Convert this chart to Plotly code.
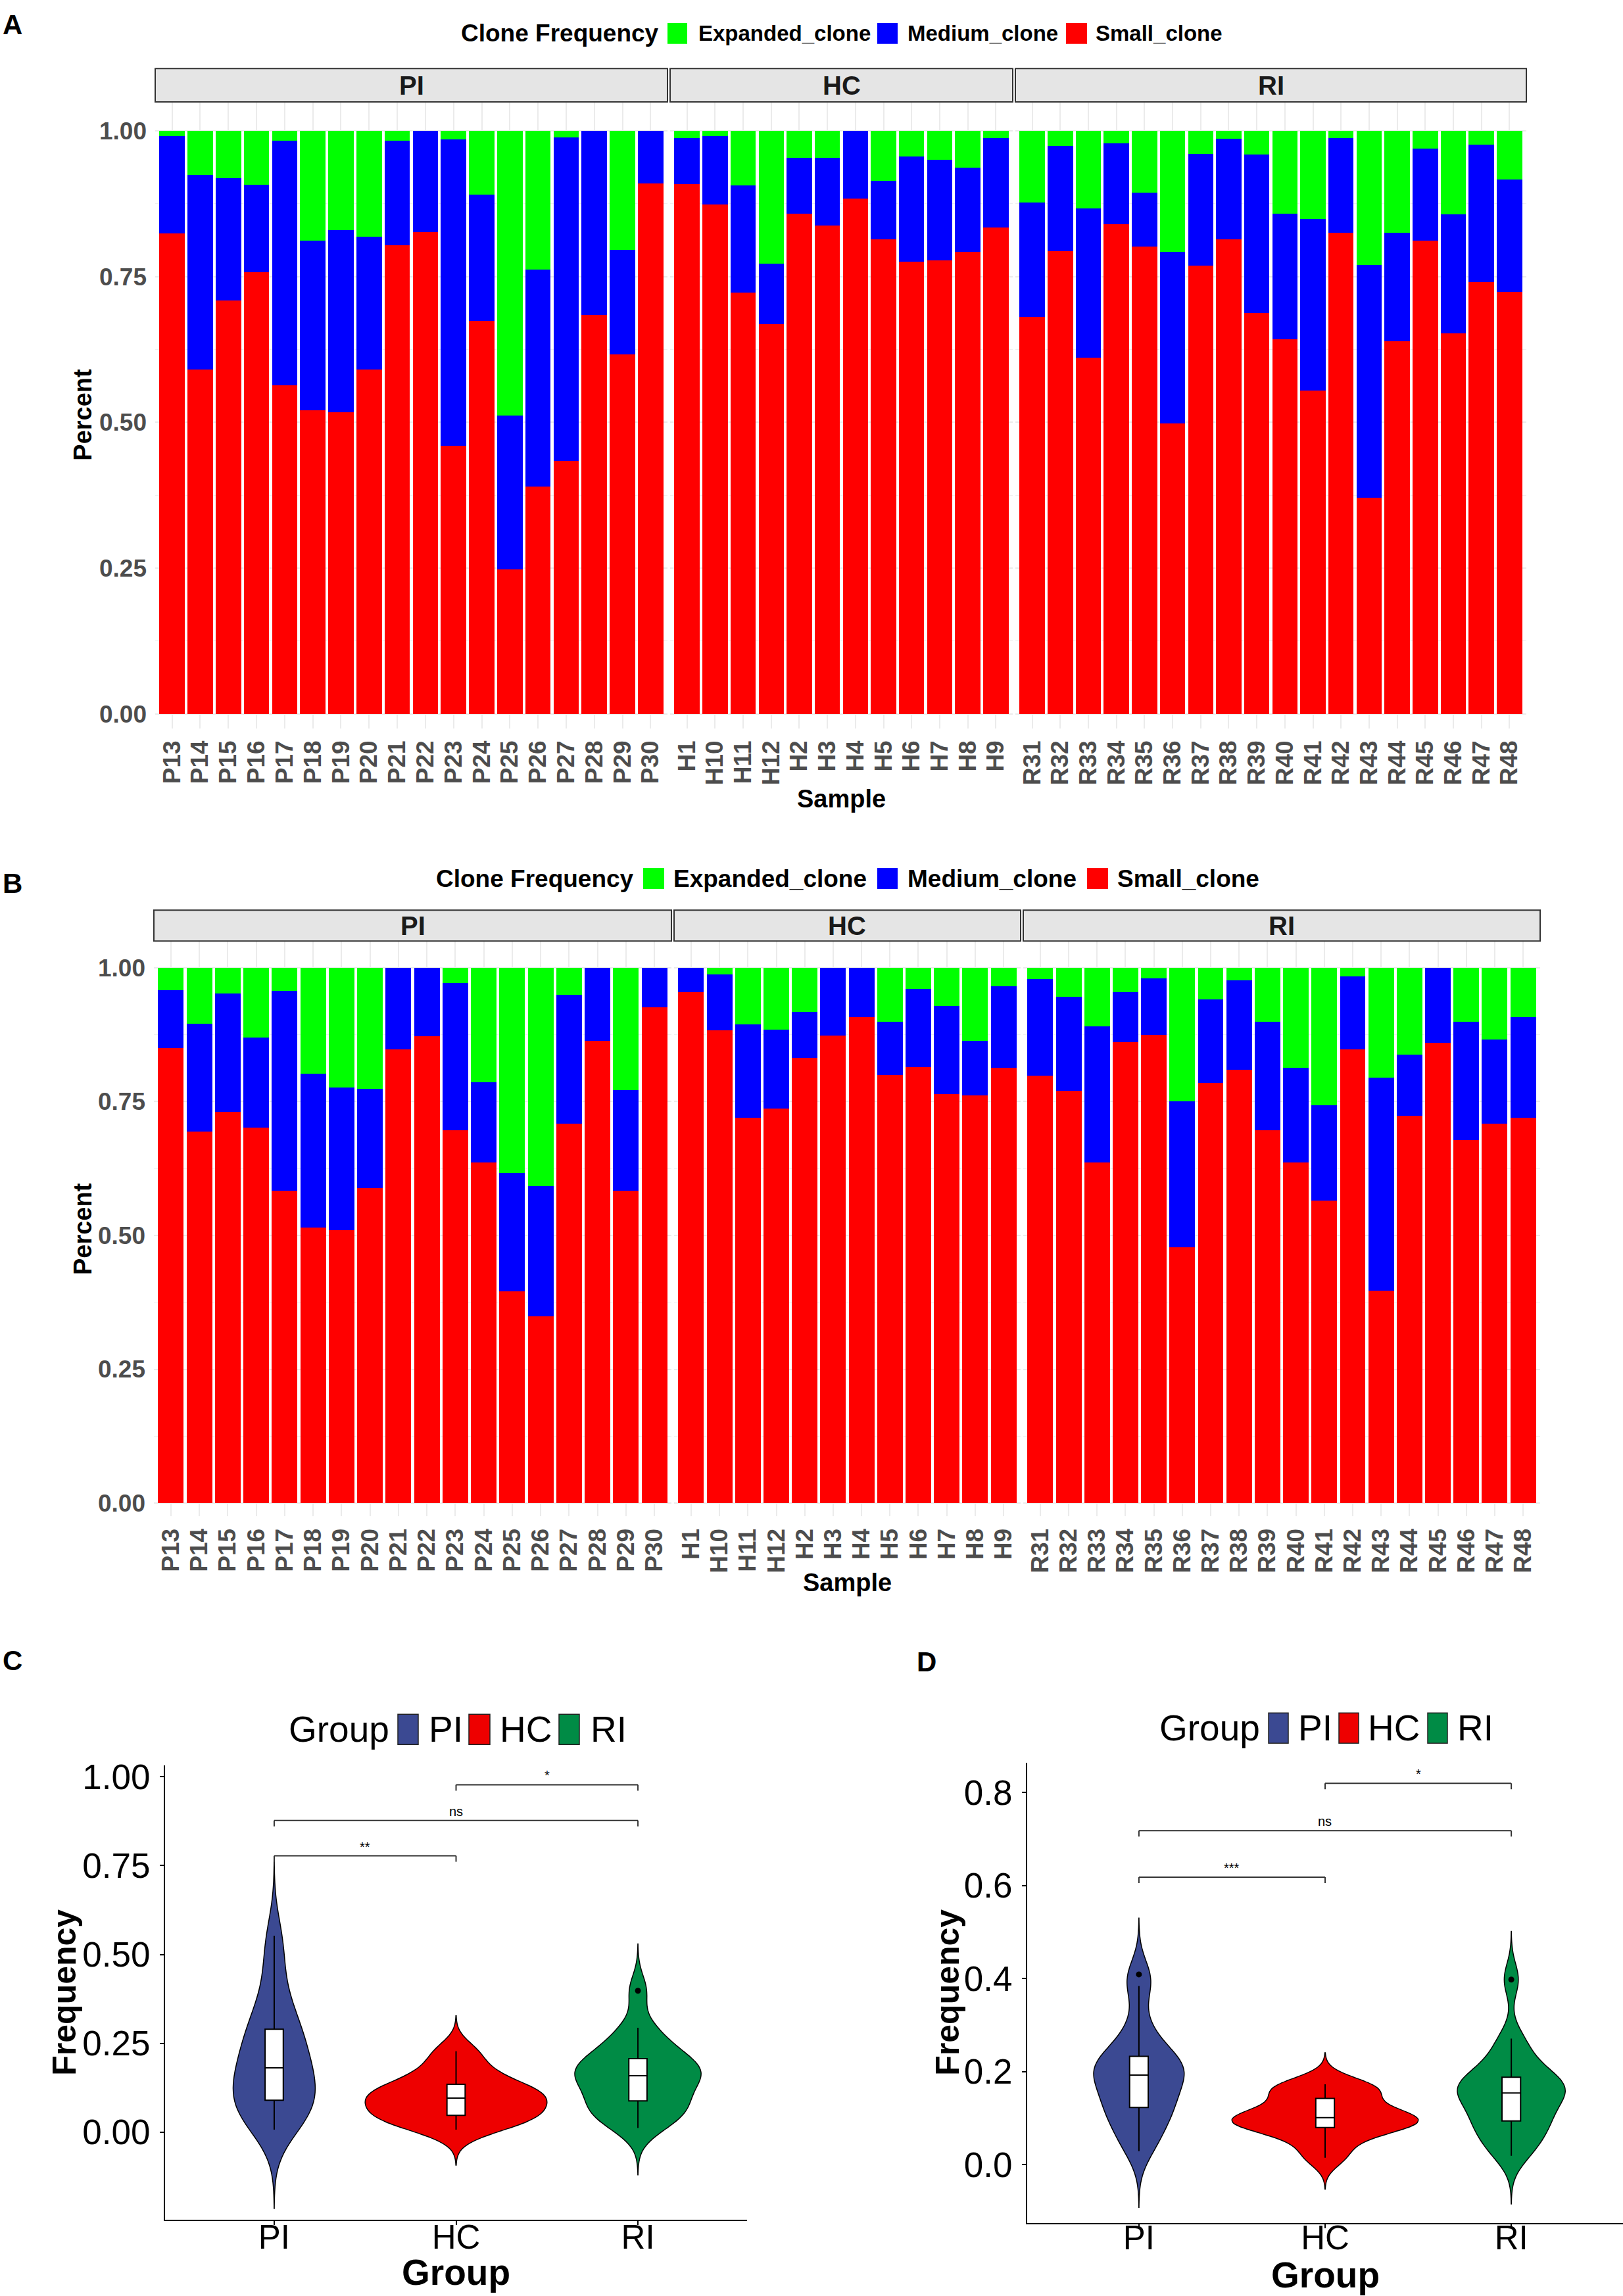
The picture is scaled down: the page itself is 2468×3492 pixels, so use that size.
import numpy as np
import plotly.graph_objects as go

W, H = 2468, 3492

# sample order on the x axis of panels A and B
pi_samples = ["P13", "P14", "P15", "P16", "P17", "P18", "P19", "P20", "P21",
              "P22", "P23", "P24", "P25", "P26", "P27", "P28", "P29", "P30"]
hc_samples = ["H1", "H10", "H11", "H12", "H2", "H3", "H4", "H5", "H6", "H7", "H8", "H9"]
ri_samples = ["R31", "R32", "R33", "R34", "R35", "R36", "R37", "R38", "R39",
              "R40", "R41", "R42", "R43", "R44", "R45", "R46", "R47", "R48"]

# panel A: share of clones (%) per sample
a_small_pi = [82.4, 59.0, 70.9, 75.7, 56.3, 52.1, 51.7, 59.1, 80.4, 82.6, 46.0, 67.4, 24.8, 39.0, 43.4, 68.4, 61.7, 91.0]
a_medium_pi = [16.7, 33.4, 21.0, 15.0, 42.0, 29.0, 31.2, 22.7, 17.9, 17.4, 52.5, 21.6, 26.4, 37.2, 55.4, 31.6, 17.9, 9.0]
a_expanded_pi = [0.9, 7.6, 8.1, 9.3, 1.7, 18.9, 17.1, 18.2, 1.7, 0.0, 1.5, 11.0, 48.8, 23.8, 1.2, 0.0, 20.4, 0.0]
a_small_hc = [90.8, 87.3, 72.2, 66.8, 85.8, 83.7, 88.4, 81.4, 77.5, 77.8, 79.2, 83.4]
a_medium_hc = [7.9, 11.8, 18.4, 10.4, 9.6, 11.6, 11.6, 10.0, 18.1, 17.2, 14.5, 15.3]
a_expanded_hc = [1.3, 0.9, 9.4, 22.8, 4.6, 4.7, 0.0, 8.6, 4.4, 5.0, 6.3, 1.3]
a_small_ri = [68.1, 79.4, 61.1, 84.0, 80.1, 49.8, 76.9, 81.4, 68.8, 64.2, 55.4, 82.5, 37.1, 63.9, 81.1, 65.2, 74.1, 72.4]
a_medium_ri = [19.6, 18.0, 25.6, 13.8, 9.3, 29.4, 19.1, 17.2, 27.1, 21.6, 29.5, 16.2, 39.9, 18.6, 15.8, 20.5, 23.5, 19.2]
a_expanded_ri = [12.3, 2.6, 13.3, 2.2, 10.6, 20.8, 4.0, 1.4, 4.1, 14.2, 15.1, 1.3, 23.0, 17.5, 3.1, 14.3, 2.4, 8.4]

# panel B
b_small_pi = [85.0, 69.4, 73.1, 70.1, 58.4, 51.5, 51.0, 58.9, 84.7, 87.2, 69.7, 63.6, 39.6, 34.9, 70.9, 86.4, 58.4, 92.6]
b_medium_pi = [10.8, 20.1, 22.1, 16.9, 37.3, 28.7, 26.6, 18.5, 15.3, 12.8, 27.5, 15.0, 22.1, 24.3, 24.1, 13.6, 18.7, 7.4]
b_expanded_pi = [4.2, 10.5, 4.8, 13.0, 4.3, 19.8, 22.4, 22.6, 0.0, 0.0, 2.8, 21.4, 38.3, 40.8, 5.0, 0.0, 22.9, 0.0]
b_small_hc = [95.5, 88.3, 72.0, 73.7, 83.1, 87.3, 90.8, 80.0, 81.5, 76.4, 76.1, 81.3]
b_medium_hc = [4.5, 10.4, 17.4, 14.8, 8.7, 12.7, 9.2, 9.9, 14.5, 16.5, 10.2, 15.2]
b_expanded_hc = [0.0, 1.3, 10.6, 11.5, 8.2, 0.0, 0.0, 10.1, 4.0, 7.1, 13.7, 3.5]
b_small_ri = [79.9, 77.0, 63.6, 86.1, 87.4, 47.8, 78.5, 81.0, 69.7, 63.6, 56.5, 84.8, 39.7, 72.4, 86.0, 67.8, 70.9, 72.0]
b_medium_ri = [18.0, 17.6, 25.4, 9.3, 10.6, 27.2, 15.6, 16.6, 20.2, 17.7, 17.8, 13.6, 39.8, 11.4, 14.0, 22.1, 15.7, 18.8]
b_expanded_ri = [2.1, 5.4, 11.0, 4.6, 2.0, 25.0, 5.9, 2.4, 10.1, 18.7, 25.7, 1.6, 20.5, 16.2, 0.0, 10.1, 13.4, 9.2]

# panels C and D: frequency per sample
c_pi = [0.007, 0.03, 0.055, 0.075, 0.09, 0.095, 0.12, 0.15, 0.17, 0.192, 0.21, 0.24, 0.28, 0.29, 0.33, 0.38, 0.47, 0.553]
c_hc = [0.007, 0.03, 0.045, 0.05, 0.07, 0.09, 0.102, 0.11, 0.125, 0.145, 0.18, 0.228]
c_ri = [0.012, 0.04, 0.05, 0.06, 0.088, 0.09, 0.12, 0.14, 0.155, 0.163, 0.17, 0.18, 0.2, 0.207, 0.23, 0.26, 0.294, 0.398]
d_pi = [0.029, 0.06, 0.08, 0.11, 0.123, 0.127, 0.15, 0.17, 0.185, 0.2, 0.205, 0.21, 0.225, 0.233, 0.26, 0.3, 0.384, 0.409]
d_hc = [0.015, 0.05, 0.078, 0.082, 0.09, 0.098, 0.104, 0.11, 0.13, 0.155, 0.165, 0.173]
d_ri = [0.019, 0.04, 0.06, 0.08, 0.094, 0.1, 0.12, 0.14, 0.15, 0.158, 0.165, 0.17, 0.184, 0.188, 0.21, 0.24, 0.271, 0.398]

# significance brackets: (group i, group j, label, level)
c_tests = [(0, 1, "**", 0.7775), (0, 2, "ns", 0.877), (1, 2, "*", 0.9775)]
d_tests = [(0, 1, "***", 0.618), (0, 2, "ns", 0.718), (1, 2, "*", 0.820)]

groups = ["PI", "HC", "RI"]
clone_names = ["Small_clone", "Medium_clone", "Expanded_clone"]
clone_colors = {"Small_clone": "#FF0000", "Medium_clone": "#0000FF", "Expanded_clone": "#00FF00"}
group_colors = {"PI": "#3B4992", "HC": "#EE0000", "RI": "#008B45"}
FONT = "Liberation Sans, Arial, Helvetica, sans-serif"


def px(x):
    return x / W


def py(y):
    return 1 - y / H


def nrd0(v):
    # R's default bandwidth for density()
    v = np.asarray(v)
    q1, q3 = np.percentile(v, [25, 75])
    return 0.9 * min(v.std(ddof=1), (q3 - q1) / 1.34) * len(v) ** -0.2


fig = go.Figure()
layout = {}
shapes = []
annotations = []


def text(t, x, y, size, bold=False, color="black", xanchor="center", yanchor="middle", angle=0):
    annotations.append(dict(text=t, x=px(x), y=py(y), xref="paper", yref="paper", showarrow=False,
                            xanchor=xanchor, yanchor=yanchor, textangle=angle, borderpad=0,
                            font=dict(family=FONT, size=size, color=color,
                                      weight="bold" if bold else "normal")))


def rect(x0, x1, y0, y1, fill, line="#333333", width=2):
    shapes.append(dict(type="rect", xref="paper", yref="paper", x0=px(x0), x1=px(x1),
                       y0=py(y1), y1=py(y0), fillcolor=fill, line=dict(color=line, width=width)))


def ax_names(k):
    return ("x" if k == 1 else f"x{k}", "y" if k == 1 else f"y{k}",
            "xaxis" if k == 1 else f"xaxis{k}", "yaxis" if k == 1 else f"yaxis{k}")


# ---- panels A and B: stacked bars faceted by group ----
bar_panels = [
    dict(letter="A", letter_y=26, axis0=1, top=143, bottom=1100, strip=(92.5, 143.5),
         xspans=[(236, 1015), (1019, 1540), (1544, 2321)],
         values={"PI": (a_small_pi, a_medium_pi, a_expanded_pi),
                 "HC": (a_small_hc, a_medium_hc, a_expanded_hc),
                 "RI": (a_small_ri, a_medium_ri, a_expanded_ri)},
         legend_y=39, legend_title_x=700, legend_sizes=(37, 33),
         legend_sq=[(1015, 1045), (1334, 1365), (1621, 1653)], legend_txt=[1061, 1379, 1665],
         percent_y=621, sample=(1279, 1207)),
    dict(letter="B", letter_y=1336, axis0=4, top=1424.5, bottom=2303, strip=(1377.5, 1424.5),
         xspans=[(234, 1021), (1025, 1552), (1556, 2342)],
         values={"PI": (b_small_pi, b_medium_pi, b_expanded_pi),
                 "HC": (b_small_hc, b_medium_hc, b_expanded_hc),
                 "RI": (b_small_ri, b_medium_ri, b_expanded_ri)},
         legend_y=1329, legend_title_x=662, legend_sizes=(37, 37),
         legend_sq=[(978, 1010), (1334, 1365), (1653, 1685)], legend_txt=[1023, 1379, 1698],
         percent_y=1864, sample=(1288, 2404)),
]
samples_of = {"PI": pi_samples, "HC": hc_samples, "RI": ri_samples}

for p in bar_panels:
    for j, grp in enumerate(groups):
        k = p["axis0"] + j
        xn, yn, xkey, ykey = ax_names(k)
        samples = samples_of[grp]
        for name, vals in zip(clone_names, p["values"][grp]):
            fig.add_trace(go.Bar(x=samples, y=vals, name=name, xaxis=xn, yaxis=yn,
                                 marker=dict(color=clone_colors[name], line=dict(width=0)),
                                 showlegend=False))
        x0, x1 = p["xspans"][j]
        layout[xkey] = dict(domain=[px(x0), px(x1)], anchor=yn, type="category",
                            categoryorder="array", categoryarray=samples,
                            tickmode="array", tickvals=samples, ticktext=samples,
                            range=[-0.6, len(samples) - 0.4], tickangle=-90,
                            tickfont=dict(family=FONT, size=37, color="#4d4d4d", weight="bold"),
                            ticklabelstandoff=10, showgrid=True, gridcolor="#ebebeb", gridwidth=2,
                            showline=False, zeroline=False, ticks="")
        layout[ykey] = dict(domain=[py(p["bottom"]), py(p["top"])], anchor=xn,
                            range=[-0.025, 1.05], tick0=0, dtick=0.25, tickformat=".2f",
                            showticklabels=(j == 0), ticklabelstandoff=12,
                            tickfont=dict(family=FONT, size=37, color="#4d4d4d", weight="bold"),
                            showgrid=True, gridcolor="#ebebeb", gridwidth=2,
                            minor=dict(dtick=0.125, tick0=0, showgrid=True, gridcolor="#f0f0f0", gridwidth=1),
                            zeroline=False, showline=False, ticks="")
        # facet strip
        rect(x0, x1, p["strip"][0], p["strip"][1], "#e5e5e5")
        text(grp, (x0 + x1) / 2, sum(p["strip"]) / 2, 40, bold=True, color="#1a1a1a")

    # legend row
    tsize, lsize = p["legend_sizes"]
    text("Clone Frequency", p["legend_title_x"], p["legend_y"], tsize, bold=True, xanchor="left")
    for name, (s0, s1), tx in zip(["Expanded_clone", "Medium_clone", "Small_clone"],
                                  p["legend_sq"], p["legend_txt"]):
        rect(s0, s1, p["legend_y"] - 16, p["legend_y"] + 16, clone_colors[name], line=clone_colors[name], width=0)
        text(name, tx, p["legend_y"], lsize, bold=True, xanchor="left")

    text(p["letter"], 3, p["letter_y"], 42, bold=True, xanchor="left")
    text("Percent", 126, p["percent_y"], 38, bold=True, angle=-90)
    text("Sample", p["sample"][0], p["sample"][1], 38, bold=True)

# ---- panels C and D: violins with inner boxplots ----
violin_panels = [
    dict(letter="C", letter_xy=(3, 2523), axis=7, data={"PI": c_pi, "HC": c_hc, "RI": c_ri},
         xspan=(251, 1136), yspan=(2683, 3377), yrange=[-0.247, 1.032], dtick=0.25, fmt=".2f",
         tests=c_tests, tick=0.0166, freq_x=98, group_xy=(693, 3457), label_shift=-26,
         leg_y=2628, leg_title_x=438, leg_sq=[(605, 636), (713, 745), (850, 881)],
         leg_txt=[651, 759, 897]),
    dict(letter="D", letter_xy=(1393, 2525), axis=8, data={"PI": d_pi, "HC": d_hc, "RI": d_ri},
         xspan=(1562, 2468), yspan=(2679, 3382), yrange=[-0.126, 0.864], dtick=0.2, fmt=".1f",
         tests=d_tests, tick=0.0127, freq_x=1441, group_xy=(2015, 3461), label_shift=-30,
         leg_y=2626, leg_title_x=1762, leg_sq=[(1929, 1959), (2036, 2066), (2171, 2201)],
         leg_txt=[1973, 2079, 2215]),
]

for p in violin_panels:
    k = p["axis"]
    xn, yn, xkey, ykey = ax_names(k)
    for grp in groups:
        vals = p["data"][grp]
        bw = nrd0(vals)
        # one scalegroup per panel -> widths follow density (equal areas, like ggplot)
        fig.add_trace(go.Violin(
            x=[grp] * len(vals), y=vals, name=grp, xaxis=xn, yaxis=yn,
            fillcolor=group_colors[grp], line=dict(color="black", width=1.5), opacity=1,
            bandwidth=bw, spanmode="manual", span=[min(vals) - 3 * bw, max(vals) + 3 * bw],
            scalegroup=f"grp{k}", scalemode="width",
            points="outliers", pointpos=0, jitter=0,
            marker=dict(color="black", size=9, line=dict(width=0)),
            box=dict(visible=True, width=0.1, fillcolor="white", line=dict(color="black", width=2)),
            meanline=dict(visible=False), showlegend=False))
    layout[xkey] = dict(domain=[px(p["xspan"][0]), px(p["xspan"][1])], anchor=yn, type="category",
                        categoryorder="array", categoryarray=groups, range=[-0.6, 2.6],
                        showline=True, linecolor="black", linewidth=2, ticks="outside", ticklen=6,
                        tickwidth=2, tickcolor="black", tickfont=dict(family=FONT, size=51, color="black"),
                        ticklabelstandoff=p["label_shift"], showgrid=False, zeroline=False)
    layout[ykey] = dict(domain=[py(p["yspan"][1]), py(p["yspan"][0])], anchor=xn, range=p["yrange"],
                        tick0=0, dtick=p["dtick"], tickformat=p["fmt"], showline=True, linecolor="black",
                        linewidth=2, ticks="outside", ticklen=6, tickwidth=2, tickcolor="black",
                        tickfont=dict(family=FONT, size=53, color="black"), ticklabelstandoff=4,
                        showgrid=False, zeroline=False)

    # significance brackets
    for i, j, label, lev in p["tests"]:
        for seg in [(i, lev - p["tick"], i, lev), (i, lev, j, lev), (j, lev, j, lev - p["tick"])]:
            shapes.append(dict(type="line", xref=xn, yref=yn, x0=seg[0], y0=seg[1], x1=seg[2], y1=seg[3],
                               line=dict(color="#333333", width=2)))
        annotations.append(dict(text=label, x=(i + j) / 2, y=lev, xref=xn, yref=yn, showarrow=False,
                                xanchor="center", yanchor="bottom", yshift=1,
                                font=dict(family=FONT, size=20, color="black")))

    # legend row
    text("Group", p["leg_title_x"], p["leg_y"], 55, xanchor="left")
    for grp, (s0, s1), tx in zip(groups, p["leg_sq"], p["leg_txt"]):
        rect(s0, s1, p["leg_y"] - 23, p["leg_y"] + 23, group_colors[grp], line="#222222", width=1.5)
        text(grp, tx, p["leg_y"], 55, xanchor="left")

    text(p["letter"], p["letter_xy"][0], p["letter_xy"][1], 42, bold=True, xanchor="left")
    text("Frequency", p["freq_x"], 3030, 50, bold=True, angle=-90)
    text("Group", p["group_xy"][0], p["group_xy"][1], 55, bold=True)

fig.update_layout(
    width=W, height=H, margin=dict(l=0, r=0, t=0, b=0),
    paper_bgcolor="white", plot_bgcolor="white",
    barmode="stack", barnorm="fraction", bargap=0.1,
    violinmode="overlay", violingap=0, violingroupgap=0,
    showlegend=False, shapes=shapes, annotations=annotations,
    font=dict(family=FONT),
    **layout,
)

# page body has a default 8px margin; drop it so the figure sits at the window origin
fig.write_html("out.html", config={"displayModeBar": False},
               post_script="document.body.style.margin = '0';")
